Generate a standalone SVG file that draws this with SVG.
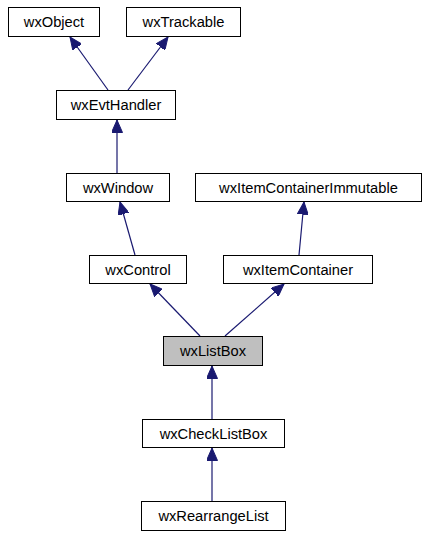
<svg xmlns="http://www.w3.org/2000/svg" width="433" height="541" viewBox="0 0 433 541">
<style>
.n rect{fill:#fff;stroke:#000;stroke-width:1}
.n.h rect{fill:#bfbfbf}
.n text{font-family:"Liberation Sans",Arial,sans-serif;font-size:14.7px;fill:#000;text-anchor:middle}
.e path{fill:none;stroke:#191970;stroke-width:1.2}
</style>
<defs>
<marker id="a" markerUnits="userSpaceOnUse" markerWidth="13" markerHeight="11" refX="12.5" refY="5.5" orient="auto">
<path d="M0,0 L12.5,5.5 L0,11 z" fill="#191970" stroke="#191970" stroke-width="1"/>
</marker>
</defs>
<rect width="433" height="541" fill="#fff"/>
<g class="e">
<path d="M108,90 L70,37" marker-end="url(#a)"/>
<path d="M128,90 L168,37" marker-end="url(#a)"/>
<path d="M117,173 L117,120" marker-end="url(#a)"/>
<path d="M135,255 L120,202" marker-end="url(#a)"/>
<path d="M299,255 L304,202" marker-end="url(#a)"/>
<path d="M200,336 L150,284" marker-end="url(#a)"/>
<path d="M225,336 L284,284" marker-end="url(#a)"/>
<path d="M212,419 L212,366" marker-end="url(#a)"/>
<path d="M212,501 L212,448" marker-end="url(#a)"/>
</g>
<g id="wxObject" class="n"><rect x="8.5" y="7.5" width="91" height="29"/><text x="54" y="27">wxObject</text></g>
<g id="wxTrackable" class="n"><rect x="126.5" y="7.5" width="114" height="29"/><text x="183.5" y="27">wxTrackable</text></g>
<g id="wxEvtHandler" class="n"><rect x="56.5" y="90.5" width="119" height="29"/><text x="116" y="110">wxEvtHandler</text></g>
<g id="wxWindow" class="n"><rect x="66.5" y="173.5" width="103" height="28"/><text x="118" y="192.5">wxWindow</text></g>
<g id="wxItemContainerImmutable" class="n"><rect x="195.5" y="173.5" width="226" height="28"/><text x="308.5" y="192.5">wxItemContainerImmutable</text></g>
<g id="wxControl" class="n"><rect x="89.5" y="255.5" width="97" height="28"/><text x="138" y="274.5">wxControl</text></g>
<g id="wxItemContainer" class="n"><rect x="223.5" y="255.5" width="149" height="28"/><text x="298" y="274.5">wxItemContainer</text></g>
<g id="wxListBox" class="n h"><rect x="163.5" y="336.5" width="99" height="29"/><text x="213" y="356">wxListBox</text></g>
<g id="wxCheckListBox" class="n"><rect x="142.5" y="419.5" width="142" height="28"/><text x="213.5" y="438.5">wxCheckListBox</text></g>
<g id="wxRearrangeList" class="n"><rect x="141.5" y="501.5" width="144" height="29"/><text x="213.5" y="521">wxRearrangeList</text></g>
</svg>
